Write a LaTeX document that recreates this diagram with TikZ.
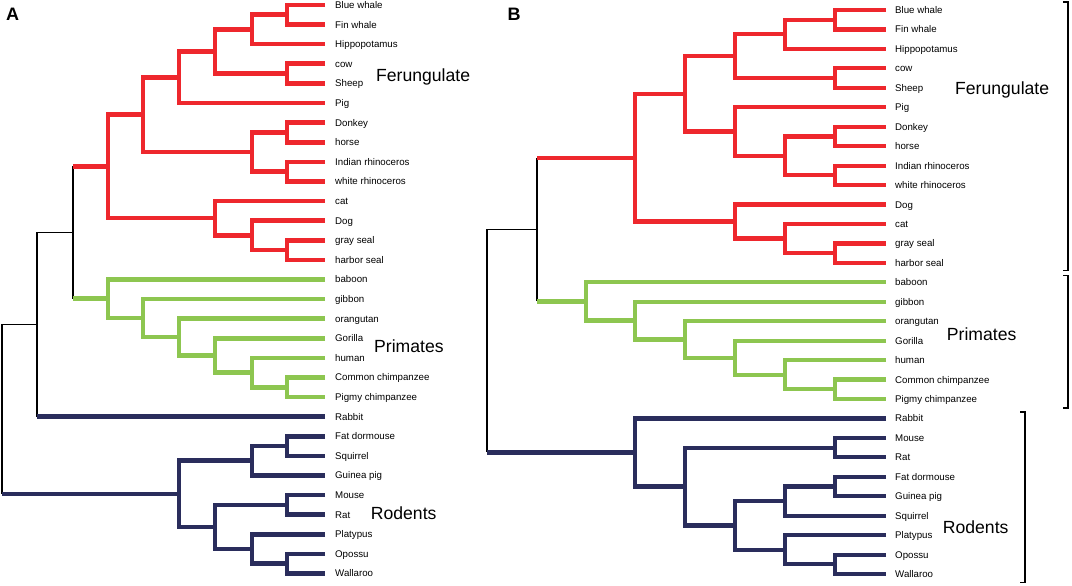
\documentclass[tikz,border=0pt]{standalone}
\usepackage{fontspec}
\setmainfont{Liberation Sans}
\definecolor{ferred}{RGB}{238,39,45}
\definecolor{prigreen}{RGB}{141,198,80}
\definecolor{rodnavy}{RGB}{42,45,92}
\begin{document}
\begin{tikzpicture}[x=1pt,y=-1pt,
  leaf/.style={anchor=west,inner ysep=0pt,font=\fontsize{9.7}{11}\selectfont,text height=7pt,text depth=0pt},
  leafA/.style={leaf,inner xsep=10pt},
  leafB/.style={leaf,inner xsep=9pt},
  ferA/.style={draw=ferred,line width=4.6pt},
  priA/.style={draw=prigreen,line width=4.6pt},
  rodA/.style={draw=rodnavy,line width=4.6pt},
  ferB/.style={draw=ferred,line width=4.2pt},
  priB/.style={draw=prigreen,line width=4.2pt},
  rodB/.style={draw=rodnavy,line width=4.2pt},
  stem/.style={draw=black,line width=1.2pt},
  grp/.style={anchor=west,inner sep=0pt,font=\fontsize{17.6}{20}\selectfont,text height=12.6pt,text depth=0pt},
  panel/.style={inner sep=0pt,font=\fontsize{18}{20}\selectfont\bfseries,text height=12.9pt,text depth=0pt}]
  \useasboundingbox (0,0) rectangle (1072,586);

  \node[panel] (pA) at (12.5,14) {A};
  \node[panel] (pB) at (514,14) {B};

  \node[leafA] (a1) at (325,5) {Blue whale};
  \node[leafA] (a2) at (325,24.6) {Fin whale};
  \node[leafA] (a3) at (325,44.2) {Hippopotamus};
  \node[leafA] (a4) at (325,63.8) {cow};
  \node[leafA] (a5) at (325,83.4) {Sheep};
  \node[leafA] (a6) at (325,103) {Pig};
  \node[leafA] (a7) at (325,122.6) {Donkey};
  \node[leafA] (a8) at (325,142.2) {horse};
  \node[leafA] (a9) at (325,161.8) {Indian rhinoceros};
  \node[leafA] (a10) at (325,181.4) {white rhinoceros};
  \node[leafA] (a11) at (325,201) {cat};
  \node[leafA] (a12) at (325,220.6) {Dog};
  \node[leafA] (a13) at (325,240.2) {gray seal};
  \node[leafA] (a14) at (325,259.8) {harbor seal};
  \node[leafA] (a15) at (325,279.4) {baboon};
  \node[leafA] (a16) at (325,299) {gibbon};
  \node[leafA] (a17) at (325,318.6) {orangutan};
  \node[leafA] (a18) at (325,338.2) {Gorilla};
  \node[leafA] (a19) at (325,357.8) {human};
  \node[leafA] (a20) at (325,377.4) {Common chimpanzee};
  \node[leafA] (a21) at (325,397) {Pigmy chimpanzee};
  \node[leafA] (a22) at (325,416.6) {Rabbit};
  \node[leafA] (a23) at (325,436.2) {Fat dormouse};
  \node[leafA] (a24) at (325,455.8) {Squirrel};
  \node[leafA] (a25) at (325,475.4) {Guinea pig};
  \node[leafA] (a26) at (325,495) {Mouse};
  \node[leafA] (a27) at (325,514.6) {Rat};
  \node[leafA] (a28) at (325,534.2) {Platypus};
  \node[leafA] (a29) at (325,553.8) {Opossu};
  \node[leafA] (a30) at (325,573.4) {Wallaroo};

  \coordinate (af1) at (287,14.8);
  \coordinate (af2) at (252,29.5);
  \coordinate (af3) at (287,73.6);
  \coordinate (af4) at (215,51.55);
  \coordinate (af5) at (179,77.28);
  \coordinate (af6) at (287,132.4);
  \coordinate (af7) at (287,171.6);
  \coordinate (af8) at (252,152);
  \coordinate (af9) at (143,114.64);
  \coordinate (af10) at (287,250);
  \coordinate (af11) at (252,235.3);
  \coordinate (af12) at (215,218.15);
  \coordinate (af13) at (108,166.4);
  \coordinate (ap1) at (287,387.2);
  \coordinate (ap2) at (252,372.5);
  \coordinate (ap3) at (215,355.35);
  \coordinate (ap4) at (179,336.98);
  \coordinate (ap5) at (143,317.99);
  \coordinate (ap6) at (108,298.7);
  \coordinate (ar1) at (287,446);
  \coordinate (ar2) at (252,460.7);
  \coordinate (ar3) at (287,504.8);
  \coordinate (ar4) at (287,563.6);
  \coordinate (ar5) at (252,548.9);
  \coordinate (ar6) at (215,526.85);
  \coordinate (ar7) at (179,493.8);
  \coordinate (ak1) at (73,232.55);
  \coordinate (ak2) at (37,324.6);
  \coordinate (ak3) at (2,409.2);

  \draw[ferA] (a1) -| (af1) |- (a2);
  \draw[ferA] (af1) -| (af2) |- (a3);
  \draw[ferA] (a4) -| (af3) |- (a5);
  \draw[ferA] (af2) -| (af4) |- (af3);
  \draw[ferA] (af4) -| (af5) |- (a6);
  \draw[ferA] (a7) -| (af6) |- (a8);
  \draw[ferA] (a9) -| (af7) |- (a10);
  \draw[ferA] (af6) -| (af8) |- (af7);
  \draw[ferA] (af5) -| (af9) |- (af8);
  \draw[ferA] (a13) -| (af10) |- (a14);
  \draw[ferA] (a12) -| (af11) |- (af10);
  \draw[ferA] (a11) -| (af12) |- (af11);
  \draw[ferA] (af9) -| (af13) |- (af12);
  \draw[priA] (a20) -| (ap1) |- (a21);
  \draw[priA] (a19) -| (ap2) |- (ap1);
  \draw[priA] (a18) -| (ap3) |- (ap2);
  \draw[priA] (a17) -| (ap4) |- (ap3);
  \draw[priA] (a16) -| (ap5) |- (ap4);
  \draw[priA] (a15) -| (ap6) |- (ap5);
  \draw[rodA] (a23) -| (ar1) |- (a24);
  \draw[rodA] (ar1) -| (ar2) |- (a25);
  \draw[rodA] (a26) -| (ar3) |- (a27);
  \draw[rodA] (a29) -| (ar4) |- (a30);
  \draw[rodA] (a28) -| (ar5) |- (ar4);
  \draw[rodA] (ar3) -| (ar6) |- (ar5);
  \draw[rodA] (ar2) -| (ar7) |- (ar6);
  \draw[stem] (af13 -| ak1) -- (ap6 -| ak1);
  \draw[stem] (ak1) -| (ak2) -- (a22 -| ak2);
  \draw[stem] (ak2) -| (ak3) -- (ar7 -| ak3);
  \draw[ferA] (af13) -- (af13 -| ak1);
  \draw[priA] (ap6) -- (ap6 -| ak1);
  \draw[rodA] (a22) -- (a22 -| ak2);
  \draw[rodA] (ar7) -- (ar7 -| ak3);

  \node[grp] (fa) at (376,74.8) {Ferungulate};
  \node[grp] (pa) at (374,346.6) {Primates};
  \node[grp] (ra) at (370.7,513) {Rodents};

  \node[leafB] (b1) at (886,10) {Blue whale};
  \node[leafB] (b2) at (886,29.45) {Fin whale};
  \node[leafB] (b3) at (886,48.9) {Hippopotamus};
  \node[leafB] (b4) at (886,68.35) {cow};
  \node[leafB] (b5) at (886,87.8) {Sheep};
  \node[leafB] (b6) at (886,107.25) {Pig};
  \node[leafB] (b7) at (886,126.7) {Donkey};
  \node[leafB] (b8) at (886,146.15) {horse};
  \node[leafB] (b9) at (886,165.6) {Indian rhinoceros};
  \node[leafB] (b10) at (886,185.05) {white rhinoceros};
  \node[leafB] (b11) at (886,204.5) {Dog};
  \node[leafB] (b12) at (886,223.95) {cat};
  \node[leafB] (b13) at (886,243.4) {gray seal};
  \node[leafB] (b14) at (886,262.85) {harbor seal};
  \node[leafB] (b15) at (886,282.3) {baboon};
  \node[leafB] (b16) at (886,301.75) {gibbon};
  \node[leafB] (b17) at (886,321.2) {orangutan};
  \node[leafB] (b18) at (886,340.65) {Gorilla};
  \node[leafB] (b19) at (886,360.1) {human};
  \node[leafB] (b20) at (886,379.55) {Common chimpanzee};
  \node[leafB] (b21) at (886,399) {Pigmy chimpanzee};
  \node[leafB] (b22) at (886,418.45) {Rabbit};
  \node[leafB] (b23) at (886,437.9) {Mouse};
  \node[leafB] (b24) at (886,457.35) {Rat};
  \node[leafB] (b25) at (886,476.8) {Fat dormouse};
  \node[leafB] (b26) at (886,496.25) {Guinea pig};
  \node[leafB] (b27) at (886,515.7) {Squirrel};
  \node[leafB] (b28) at (886,535.15) {Platypus};
  \node[leafB] (b29) at (886,554.6) {Opossu};
  \node[leafB] (b30) at (886,574.05) {Wallaroo};

  \coordinate (bf1) at (835,19.73);
  \coordinate (bf2) at (785,34.31);
  \coordinate (bf3) at (835,78.08);
  \coordinate (bf4) at (735,56.2);
  \coordinate (bf5) at (835,136.43);
  \coordinate (bf6) at (835,175.33);
  \coordinate (bf7) at (785,155.88);
  \coordinate (bf8) at (735,131.56);
  \coordinate (bf9) at (685,93.88);
  \coordinate (bf10) at (835,253.13);
  \coordinate (bf11) at (785,238.54);
  \coordinate (bf12) at (735,221.52);
  \coordinate (bf13) at (635,157.7);
  \coordinate (bp1) at (835,389.28);
  \coordinate (bp2) at (785,374.69);
  \coordinate (bp3) at (735,357.67);
  \coordinate (bp4) at (685,339.43);
  \coordinate (bp5) at (635,320.59);
  \coordinate (bp6) at (586,301.45);
  \coordinate (br1) at (835,447.63);
  \coordinate (br2) at (835,486.53);
  \coordinate (br3) at (785,501.11);
  \coordinate (br4) at (835,564.33);
  \coordinate (br5) at (785,549.74);
  \coordinate (br6) at (735,525.43);
  \coordinate (br7) at (685,486.53);
  \coordinate (br8) at (635,452.49);
  \coordinate (bk1) at (537,229.58);
  \coordinate (bk2) at (487,341);

  \draw[ferB] (b1) -| (bf1) |- (b2);
  \draw[ferB] (bf1) -| (bf2) |- (b3);
  \draw[ferB] (b4) -| (bf3) |- (b5);
  \draw[ferB] (bf2) -| (bf4) |- (bf3);
  \draw[ferB] (b7) -| (bf5) |- (b8);
  \draw[ferB] (b9) -| (bf6) |- (b10);
  \draw[ferB] (bf5) -| (bf7) |- (bf6);
  \draw[ferB] (b6) -| (bf8) |- (bf7);
  \draw[ferB] (bf4) -| (bf9) |- (bf8);
  \draw[ferB] (b13) -| (bf10) |- (b14);
  \draw[ferB] (b12) -| (bf11) |- (bf10);
  \draw[ferB] (b11) -| (bf12) |- (bf11);
  \draw[ferB] (bf9) -| (bf13) |- (bf12);
  \draw[priB] (b20) -| (bp1) |- (b21);
  \draw[priB] (b19) -| (bp2) |- (bp1);
  \draw[priB] (b18) -| (bp3) |- (bp2);
  \draw[priB] (b17) -| (bp4) |- (bp3);
  \draw[priB] (b16) -| (bp5) |- (bp4);
  \draw[priB] (b15) -| (bp6) |- (bp5);
  \draw[rodB] (b23) -| (br1) |- (b24);
  \draw[rodB] (b25) -| (br2) |- (b26);
  \draw[rodB] (br2) -| (br3) |- (b27);
  \draw[rodB] (b29) -| (br4) |- (b30);
  \draw[rodB] (b28) -| (br5) |- (br4);
  \draw[rodB] (br3) -| (br6) |- (br5);
  \draw[rodB] (br1) -| (br7) |- (br6);
  \draw[rodB] (b22) -| (br8) |- (br7);
  \draw[stem] (bf13 -| bk1) -- (bp6 -| bk1);
  \draw[stem] (bk1) -| (bk2) -- (br8 -| bk2);
  \draw[ferB] (bf13) -- (bf13 -| bk1);
  \draw[priB] (bp6) -- (bp6 -| bk1);
  \draw[rodB] (br8) -- (br8 -| bk2);

  \node[grp] (fb) at (955,88.5) {Ferungulate};
  \node[grp] (pb) at (946.7,334) {Primates};
  \node[grp] (rb) at (942.7,527.6) {Rodents};

  \draw[stem] (1063,2) -- (1068,2) -- (1068,270.5) -- (1063,270.5);
  \draw[stem] (1063,275.3) -- (1068,275.3) -- (1068,408) -- (1063,408);
  \draw[stem] (1020,412) -- (1025,412) -- (1025,582.5) -- (1020,582.5);
\end{tikzpicture}
\end{document}
